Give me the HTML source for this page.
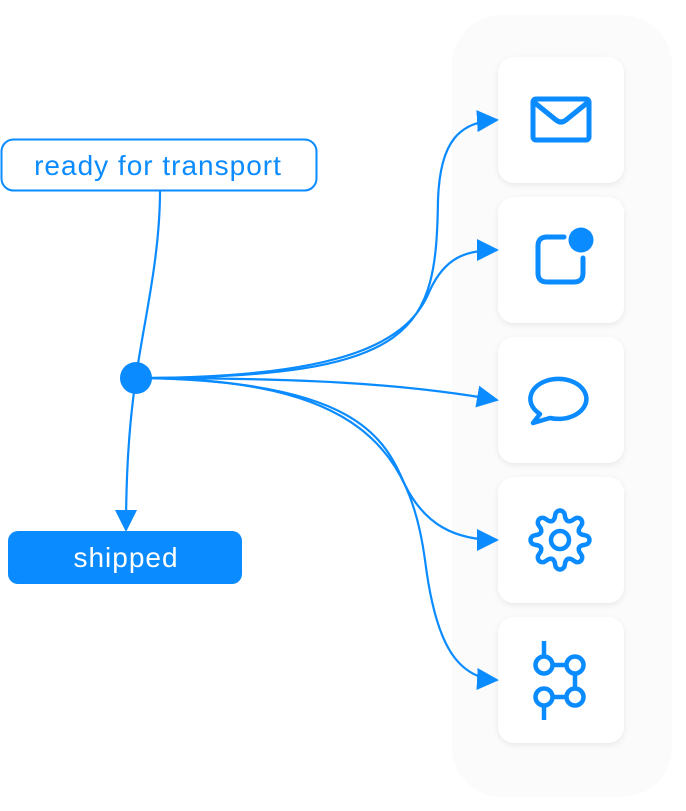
<!DOCTYPE html>
<html><head><style>
html,body{margin:0;padding:0;background:#fff;width:686px;height:811px;overflow:hidden;font-family:"Liberation Sans",sans-serif}
</style></head><body>
<svg width="686" height="811" viewBox="0 0 686 811" xmlns="http://www.w3.org/2000/svg">
<defs>
<filter id="sh" x="-20%" y="-20%" width="140%" height="140%"><feDropShadow dx="0" dy="2" stdDeviation="3" flood-color="#000" flood-opacity="0.08"/></filter>
<marker id="ar2" markerWidth="22" markerHeight="22" refX="20" refY="11" orient="auto" markerUnits="userSpaceOnUse" viewBox="0 0 22 22"><path d="M0,0 L22,11 L0,22z" fill="#0a8bff"/></marker>
</defs>
<rect x="452" y="15" width="220" height="782" rx="50" fill="#fbfbfb"/>
<g filter="url(#sh)" fill="#fff">
<rect x="498" y="57" width="126" height="126" rx="16"/>
<rect x="498" y="197" width="126" height="126" rx="16"/>
<rect x="498" y="337" width="126" height="126" rx="16"/>
<rect x="498" y="477" width="126" height="126" rx="16"/>
<rect x="498" y="617" width="126" height="126" rx="16"/>
</g>
<g fill="none" stroke="#0a8bff" stroke-width="2.2">
<path d="M160,191 C160,260 142,330 136,378"/>
<path d="M136,378 C128,430 126,480 126,530" marker-end="url(#ar2)"/>
<path d="M136,378 C420,378 436,330 438,200 C440,140 460,122 497,120" marker-end="url(#ar2)"/>
<path d="M136,378 C350,378 410,340 430,290 C445,258 465,250 497,250" marker-end="url(#ar2)"/>
<path d="M136,378 C300,378 400,383 497,400" marker-end="url(#ar2)"/>
<path d="M136,378 C360,380 385,440 405,485 C425,525 455,540 497,540" marker-end="url(#ar2)"/>
<path d="M136,378 C360,378 410,450 425,560 C435,640 455,678 497,680" marker-end="url(#ar2)"/>
</g>
<circle cx="136" cy="378" r="16" fill="#0a8bff"/>
<rect x="1.5" y="139.5" width="315" height="51" rx="12" fill="#fff" stroke="#0a8bff" stroke-width="2"/>
<text x="158" y="175" text-anchor="middle" font-size="28" letter-spacing="1" fill="#0a8bff" font-family="Liberation Sans, sans-serif">ready for transport</text>
<rect x="8" y="531" width="234" height="53" rx="10" fill="#0a8bff"/>
<text x="126" y="567" text-anchor="middle" font-size="28" letter-spacing="1" fill="#fff" font-family="Liberation Sans, sans-serif">shipped</text>
<g fill="none" stroke="#0a8bff" stroke-width="5" stroke-linejoin="round" stroke-linecap="round">
<rect x="533" y="99" width="56" height="41" rx="3"/>
<path d="M535,103 L556,120 Q561,124 566,120 L587,103"/>
<path d="M564,237 L547,237 Q538,237 538,246 L538,273 Q538,282 547,282 L574,282 Q583,282 583,273 L583,258"/>
<path d="M540,414 A28,20 0 1 1 550,418 L533,423 Z" stroke-width="4.5"/>
<path id="gear" d="" stroke-width="4.5"/>
<circle cx="560" cy="540" r="9" stroke-width="4.5"/>
<path d="M544,641 L544,656 M544,706 L544,720 M552,665 L566,665 M552,697 L566,697 M575,673 L575,689" stroke-width="4.5" stroke-linecap="butt"/>
<circle cx="544" cy="665" r="8.5" stroke-width="4.5"/>
<circle cx="575" cy="665" r="8.5" stroke-width="4.5"/>
<circle cx="544" cy="697" r="8.5" stroke-width="4.5"/>
<circle cx="575" cy="697" r="8.5" stroke-width="4.5"/>
</g>
<circle cx="581" cy="240" r="12.5" fill="#0a8bff"/>
</svg>
<script>
(function(){var d="",n=160;for(var i=0;i<=n;i++){var t=i/n*2*Math.PI;var c=Math.cos(8*t);var r=25+4.5*Math.sign(c)*Math.pow(Math.abs(c),0.6);var x=560+r*Math.sin(t),y=540-r*Math.cos(t);d+=(i?"L":"M")+x.toFixed(2)+","+y.toFixed(2);}d+="Z";document.getElementById("gear").setAttribute("d",d);})();
</script>
</body></html>
